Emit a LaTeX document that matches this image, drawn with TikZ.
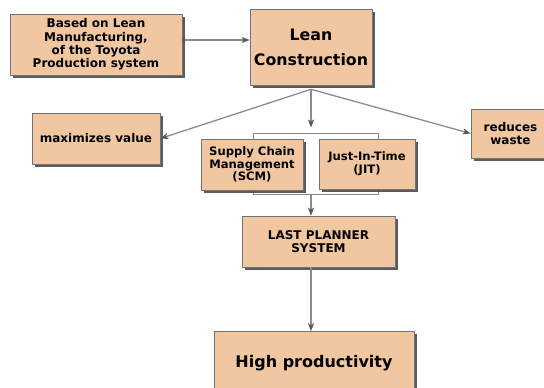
\documentclass[tikz,border=0pt]{standalone}
\usepackage{fontspec}
\setmainfont{DejaVu Sans}
\usepackage{tikz}
\usetikzlibrary{positioning,arrows.meta,shadows}
\usepackage{xcolor}
\definecolor{boxtan}{RGB}{241,199,162}
\definecolor{linegray}{RGB}{140,140,140}

\begin{document}
\begin{tikzpicture} [x=1pt, y=-1pt,
		box/.style={draw=black!55, line width=0.6pt, fill=boxtan, align=center, inner sep=0pt,
			font=\bfseries\fontsize{12}{13.3}\selectfont,
			drop shadow={shadow xshift=2.5pt, shadow yshift=-2.5pt, fill=black!75, opacity=0.85}},
		conn/.style={draw=linegray, line width=1.3pt, -{Stealth[length=8pt, width=6pt, inset=2pt, color=black!65]}}]
				\useasboundingbox (0,0) rectangle (544,388);
				% frame behind SCM and JIT
				\node [draw=linegray, line width=1pt, minimum width=125pt, minimum height=61pt] (group) at (315.5,163.5) {};
				\node [box, minimum width=172pt, minimum height=61pt] (based) at (96,44.5) {Based on Lean\\Manufacturing,\\of the Toyota\\Production system};
				\node [box, minimum width=122pt, minimum height=76pt, font=\bfseries\fontsize{15.8}{25}\selectfont] (lean) at (311,47) {Lean\\Construction};
				\node [box, minimum width=128pt, minimum height=51pt] (maxv) at (96,138.5) {maximizes value};
				\node [box, minimum width=102pt, minimum height=51pt, font=\bfseries\fontsize{11.6}{12.5}\selectfont] (scm) at (252,164.5) {Supply Chain\\Management\\(SCM)};
				\node [box, minimum width=96pt, minimum height=50pt, font=\bfseries\fontsize{11.6}{12.5}\selectfont] (jit) at (367,164) {Just-In-Time\\(JIT)};
				\node [box, minimum width=79pt, minimum height=49pt] (waste) at (510.5,133.5) {reduces\\waste};
				\node [box, minimum width=153pt, minimum height=51pt, font=\bfseries\fontsize{12}{12.5}\selectfont] (lps) at (318.5,241.5) {LAST PLANNER\\SYSTEM};
				\node [box, minimum width=200pt, minimum height=63pt, font=\bfseries\fontsize{16}{20}\selectfont] (high) at (314,363) {High productivity};

				\coordinate (junc) at ([yshift=-4pt]lean.south);
				\draw [conn, {Circle[length=3pt, width=4pt, color=black!65]}-{Stealth[length=8pt, width=6pt, inset=2pt, color=black!65]}] ([yshift=4.5pt]based.east) -- ([yshift=4.5pt]based.east -| lean.west);
				\draw [conn] (junc) -- (maxv.east);
				\draw [conn] (junc) -- (waste.west);
				\draw [conn] (junc) -- ([yshift=5pt]group.north -| junc);
				\draw [conn] (group.south -| junc) -- (lps.north -| junc);
				\draw [conn] (lps.south -| junc) -- (high.north -| junc);

			\end{tikzpicture}
\end{document}
